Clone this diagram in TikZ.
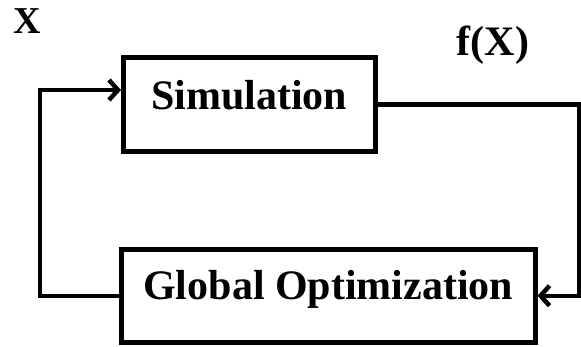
\documentclass[tikz,border=0pt]{standalone}
\usepackage{fontspec}
\setmainfont{Liberation Serif}
\usetikzlibrary{arrows.meta}
\usetikzlibrary{bending}

\begin{document}
\begin{tikzpicture}[x=1pt,y=-1pt,
  % blocks of the loop
  block/.style={draw, line width=4.5pt, inner sep=0pt, anchor=north west,
    font=\fontsize{42}{50}\selectfont\bfseries},
  % lines between the blocks
  conn/.style={line width=4.5pt},
  tip/.style={-{Straight Barb[length=9pt,width=20pt]}},
  sig/.style={inner sep=0pt, anchor=base}]
\useasboundingbox (0,0) rectangle (581,346);
% blocks
\node[block, minimum width=252pt, text height=52pt, text depth=42pt]
  (sim) at (121,55) {Simulation};
\node[block, minimum width=414pt, text height=50pt, text depth=43pt]
  (glob) at (119,247) {Global Optimization};
% corners of the loop
\coordinate (xin) at (40,90);
\coordinate (fout) at (579,0);
% feedback lines
\draw[conn, tip] (glob.west) -| (xin) -- (xin -| sim.west);
\draw[conn, tip] (sim.east) -- (sim.east -| fout) |- (glob.east);
% signals
\node[sig, font=\fontsize{38}{42}\selectfont\bfseries] (xsig) at (27,33) {X};
\node[sig, font=\fontsize{42}{48}\selectfont\bfseries] (fsig) at (493,55) {f(X)};
\end{tikzpicture}
\end{document}
